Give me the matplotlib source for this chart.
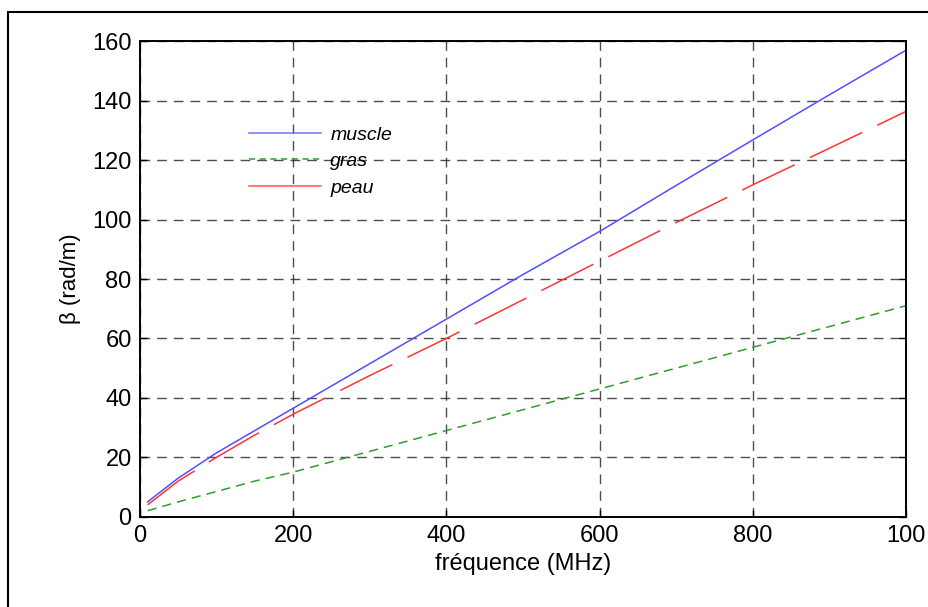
import matplotlib
matplotlib.use("Agg")
import matplotlib.pyplot as plt
from matplotlib.patches import Rectangle
from matplotlib.lines import Line2D

plt.rcParams['font.family'] = ['Liberation Sans', 'DejaVu Sans']

freq = [10, 50, 100, 150, 200, 300, 400, 500, 600, 700, 800, 900, 1000]
muscle = [5, 13, 21.5, 29, 36.5, 51.5, 66.5, 81.5, 96, 111.5, 126.8, 142, 157]
gras = [2, 5, 8.5, 12, 15, 22, 29, 36, 43, 50, 57, 64, 71]
peau = [4, 12, 20, 27.5, 34.5, 47.5, 60, 73, 86, 99, 111.7, 124, 136.4]

xticks = [0, 200, 400, 600, 800, 1000]
xticklabels = ["0", "200", "400", "600", "800", "100"]
yticks = [0, 20, 40, 60, 80, 100, 120, 140, 160]

fig = plt.figure(figsize=(9.29, 6.07), dpi=100)
ax = fig.add_axes([140/929, 1 - 516.7/607, (906-140)/929, (516.7-41.3)/607])

ax.plot(freq, muscle, color='#5050ff', lw=1.1, label='muscle')
ax.plot(freq, gras, color='#2ca02c', lw=1.1, dashes=[6, 4], label='gras')
lp, = ax.plot(freq, peau, color='#ff3333', lw=1.1, label='peau')
lp.set_dashes([38, 11])

ax.set_xlim(0, 1000)
ax.set_ylim(0, 160)
ax.set_xticks(xticks)
ax.set_xticklabels(xticklabels)
ax.set_yticks(yticks)
ax.tick_params(direction='in', length=5, width=1, labelsize=17, pad=6,
               top=False, right=True)
for s in ax.spines.values():
    s.set_linewidth(1.4)
ax.grid(True, color='#222222', linestyle=(0, (7, 5)), lw=1.0, alpha=0.8)

ax.set_xlabel('fréquence (MHz)', fontsize=17, labelpad=4)
ax.set_ylabel('β (rad/m)', fontsize=16, labelpad=8)

handles = [Line2D([], [], color='#7070ff', lw=1.1),
           Line2D([], [], color='#2ca02c', lw=1.1, dashes=[4, 3]),
           Line2D([], [], color='#ff5555', lw=1.1)]
leg = ax.legend(handles, ['muscle', 'gras', 'peau'], loc='upper left',
                bbox_to_anchor=(0.119, 0.858), frameon=False,
                prop={'style': 'italic', 'size': 14}, handlelength=3.7,
                handletextpad=0.5, labelspacing=0.45)

fig.add_artist(Rectangle((8/929, -0.1), 2, 1 - 12/607 + 0.1,
                         transform=fig.transFigure, fill=False,
                         edgecolor='black', lw=1.5))

fig.savefig('out.png', dpi=100)
